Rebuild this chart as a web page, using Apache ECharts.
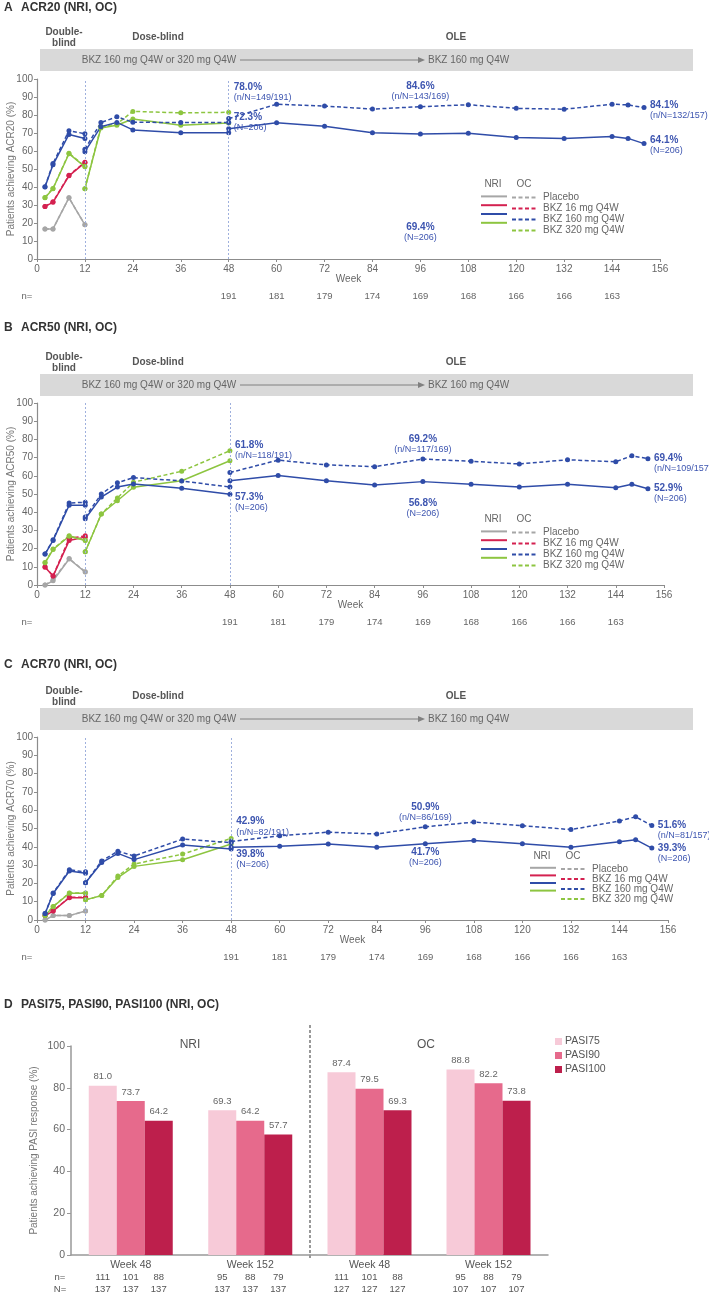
<!DOCTYPE html>
<html>
<head>
<meta charset="utf-8">
<title>ACR / PASI responses</title>
<script src="https://cdn.jsdelivr.net/npm/echarts@6/dist/echarts.min.js"></script>
<style>
  html, body { margin: 0; padding: 0; background: #fff; }
  #chart { width: 709px; height: 1294px; }
</style>
</head>
<body>
<div id="chart"></div>
<script>
// ---- weeks ----
var dbWeeks = [2, 4, 8, 12];
var dsWeeks = [12, 16, 20, 24, 36, 48];
var oleWeeks = [48, 60, 72, 84, 96, 108, 120, 132, 144, 148, 152];
var nWeeks = [48, 60, 72, 84, 96, 108, 120, 132, 144];
var nAtRisk = [191, 181, 179, 174, 169, 168, 166, 166, 163];
var noteWeeks = [48, 96, 152];

// ---- ACR20 ----
var acr20PboNri = [16.7, 16.7, 34.0, 19.0];
var acr20PboOc = [16.7, 16.7, 34.0, 19.0];
var acr20B16Nri = [29.2, 31.5, 46.2, 53.5];
var acr20B16Oc = [29.2, 31.8, 46.5, 53.8];
var acr20B160DbNri = [40.0, 52.3, 69.2, 67.0];
var acr20B160DbOc = [40.2, 53.0, 71.3, 69.6];
var acr20B320DbNri = [34.0, 39.0, 58.5, 51.2];
var acr20B320DbOc = [34.2, 39.2, 58.8, 51.5];
var acr20B160DsNri = [59.6, 73.5, 75.9, 71.7, 70.2, 70.1];
var acr20B160DsOc = [61.0, 75.8, 79.0, 76.0, 75.8, 75.9];
var acr20B320DsNri = [39.0, 72.8, 74.3, 77.8, 74.3, 75.5];
var acr20B320DsOc = [39.0, 73.5, 75.0, 82.0, 81.2, 81.5];
var acr20OleNri = [72.3, 75.7, 73.7, 70.2, 69.4, 69.8, 67.5, 66.9, 68.0, 67.0, 64.1];
var acr20OleOc = [78.0, 86.0, 85.0, 83.3, 84.6, 85.7, 83.7, 83.2, 86.0, 85.6, 84.1];
var acr20NriNotes = [['72.3%', '(N=206)'], ['69.4%', '(N=206)'], ['64.1%', '(N=206)']];
var acr20OcNotes = [['78.0%', '(n/N=149/191)'], ['84.6%', '(n/N=143/169)'], ['84.1%', '(n/N=132/157)']];

// ---- ACR50 ----
var acr50PboNri = [0.0, 2.3, 14.3, 7.1];
var acr50PboOc = [0.0, 3.0, 14.5, 7.3];
var acr50B16Nri = [9.8, 4.9, 24.4, 26.3];
var acr50B16Oc = [10.0, 5.0, 25.6, 27.0];
var acr50B160DbNri = [17.0, 24.5, 43.8, 43.8];
var acr50B160DbOc = [17.1, 24.8, 45.0, 45.5];
var acr50B320DbNri = [12.2, 19.5, 26.8, 24.4];
var acr50B320DbOc = [12.4, 19.8, 27.0, 24.6];
var acr50B160DsNri = [36.4, 48.3, 53.8, 55.5, 53.2, 49.9];
var acr50B160DsOc = [37.3, 50.0, 56.2, 59.0, 57.2, 53.8];
var acr50B320DsNri = [18.3, 39.0, 46.3, 53.7, 57.3, 68.3];
var acr50B320DsOc = [18.3, 39.0, 47.8, 56.5, 62.5, 73.8];
var acr50OleNri = [57.3, 60.2, 57.3, 55.0, 56.8, 55.3, 53.9, 55.3, 53.4, 55.4, 52.9];
var acr50OleOc = [61.8, 68.6, 66.0, 65.0, 69.2, 68.0, 66.5, 68.8, 67.7, 71.0, 69.4];
var acr50NriNotes = [['57.3%', '(N=206)'], ['56.8%', '(N=206)'], ['52.9%', '(N=206)']];
var acr50OcNotes = [['61.8%', '(n/N=118/191)'], ['69.2%', '(n/N=117/169)'], ['69.4%', '(n/N=109/157)']];

// ---- ACR70 ----
var acr70PboNri = [0.0, 2.4, 2.4, 4.9];
var acr70PboOc = [0.0, 2.4, 2.4, 4.9];
var acr70B16Nri = [2.4, 4.9, 12.2, 12.2];
var acr70B16Oc = [2.5, 5.0, 12.4, 12.4];
var acr70B160DbNri = [3.5, 14.5, 26.8, 25.6];
var acr70B160DbOc = [3.6, 14.8, 27.4, 26.3];
var acr70B320DbNri = [2.4, 7.3, 14.6, 14.6];
var acr70B320DbOc = [2.5, 7.4, 14.8, 14.8];
var acr70B160DsNri = [20.4, 31.4, 36.4, 33.0, 41.0, 38.8];
var acr70B160DsOc = [20.4, 32.3, 37.6, 35.0, 44.2, 42.3];
var acr70B320DsNri = [11.0, 13.4, 23.2, 29.3, 32.9, 41.5];
var acr70B320DsOc = [11.0, 13.4, 24.0, 30.6, 36.0, 44.6];
var acr70OleNri = [39.8, 40.3, 41.5, 39.8, 41.7, 43.5, 41.7, 39.7, 42.8, 43.9, 39.3];
var acr70OleOc = [42.9, 46.0, 48.0, 47.0, 50.9, 53.5, 51.5, 49.4, 54.1, 56.4, 51.6];
var acr70NriNotes = [['39.8%', '(N=206)'], ['41.7%', '(N=206)'], ['39.3%', '(N=206)']];
var acr70OcNotes = [['42.9%', '(n/N=82/191)'], ['50.9%', '(n/N=86/169)'], ['51.6%', '(n/N=81/157)']];

// ---- PASI ----
var pasiCats = ['Week 48', 'Week 152'];
var pasiNames = ['PASI75', 'PASI90', 'PASI100'];
var nriPasi75 = [81.0, 69.3];
var nriPasi90 = [73.7, 64.2];
var nriPasi100 = [64.2, 57.7];
var ocPasi75 = [87.4, 88.8];
var ocPasi90 = [79.5, 82.2];
var ocPasi100 = [69.3, 73.8];
var nriN75 = [111, 95], nriN90 = [101, 88], nriN100 = [88, 79];
var nriTot = [137, 137];
var ocN75 = [111, 95], ocN90 = [101, 88], ocN100 = [88, 79];
var ocTot = [127, 107];

// ---- styles ----
var FONT = '"Liberation Sans", Arial, sans-serif';
var GREY = '#A6A6A6', RED = '#D42150', BLUE = '#2F4CA8', GREEN = '#8DC540', NOTE = '#3D55B0';
var AXIS = '#8C8C8C', TXT = '#666666';
var PINKS = ['#F7CAD8', '#E66A8C', '#BD1F4C'];

var panels = [
  { letter: 'A', title: 'ACR20 (NRI, OC)', yName: 'Patients achieving ACR20 (%)',
    top: 79, height: 180, width: 623, bandTop: 49, titleY: 8, legendX: 480, legendTop: 192, legendRow: 11,
    pbo: [acr20PboNri, acr20PboOc], b16: [acr20B16Nri, acr20B16Oc],
    b160db: [acr20B160DbNri, acr20B160DbOc], b320db: [acr20B320DbNri, acr20B320DbOc],
    b160ds: [acr20B160DsNri, acr20B160DsOc], b320ds: [acr20B320DsNri, acr20B320DsOc],
    ole: [acr20OleNri, acr20OleOc], notes: [acr20NriNotes, acr20OcNotes],
    pos: [[[5, -17, 'left', 'top'], [0, 88, 'center', 'top'], [6, -9, 'left', 'top']],
          [[5, -37, 'left', 'top'], [0, -5, 'center', 'bottom'], [6, -8, 'left', 'top']]] },
  { letter: 'B', title: 'ACR50 (NRI, OC)', yName: 'Patients achieving ACR50 (%)',
    top: 403, height: 182, width: 627, bandTop: 374, titleY: 328, legendX: 480, legendTop: 527, legendRow: 11,
    pbo: [acr50PboNri, acr50PboOc], b16: [acr50B16Nri, acr50B16Oc],
    b160db: [acr50B160DbNri, acr50B160DbOc], b320db: [acr50B320DbNri, acr50B320DbOc],
    b160ds: [acr50B160DsNri, acr50B160DsOc], b320ds: [acr50B320DsNri, acr50B320DsOc],
    ole: [acr50OleNri, acr50OleOc], notes: [acr50NriNotes, acr50OcNotes],
    pos: [[[5, 11, 'left', 'top'], [0, 16, 'center', 'top'], [6, -6, 'left', 'top']],
          [[5, -33, 'left', 'top'], [0, -4, 'center', 'bottom'], [6, -6, 'left', 'top']]] },
  { letter: 'C', title: 'ACR70 (NRI, OC)', yName: 'Patients achieving ACR70 (%)',
    top: 737, height: 183, width: 631, bandTop: 708, titleY: 665, legendX: 529, legendTop: 864, legendRow: 9.5,
    pbo: [acr70PboNri, acr70PboOc], b16: [acr70B16Nri, acr70B16Oc],
    b160db: [acr70B160DbNri, acr70B160DbOc], b320db: [acr70B320DbNri, acr70B320DbOc],
    b160ds: [acr70B160DsNri, acr70B160DsOc], b320ds: [acr70B320DsNri, acr70B320DsOc],
    ole: [acr70OleNri, acr70OleOc], notes: [acr70NriNotes, acr70OcNotes],
    pos: [[[5, 2, 'left', 'top'], [0, 3, 'center', 'top'], [6, -5, 'left', 'top']],
          [[5, -25, 'left', 'top'], [0, -4, 'center', 'bottom'], [6, -6, 'left', 'top']]] }
];

var armNames = ['Placebo', 'BKZ 16 mg Q4W', 'BKZ 160 mg Q4W', 'BKZ 320 mg Q4W'];

function noteLabel(p, k, ni) {
  var t = p.notes[k][ni], o = p.pos[k][ni];
  return {
    show: true, position: [o[0] + 2.5, o[1] + 2.5], align: o[2], verticalAlign: o[3],
    formatter: '{p|' + t[0] + '}\n{n|' + t[1] + '}',
    rich: {
      p: { fontWeight: 'bold', fontSize: 10, lineHeight: 10.5, color: NOTE, fontFamily: FONT, align: o[2] },
      n: { fontSize: 9, lineHeight: 10.5, color: NOTE, fontFamily: FONT, align: o[2] }
    }
  };
}

function txt(x, y, s, font, fill, align) {
  return { type: 'text', x: x, y: y, silent: true,
    style: { text: s, font: font, fill: fill || '#555',
      align: align || 'left', verticalAlign: 'middle',
      textAlign: align || 'left', textVerticalAlign: 'middle' } };
}

var grid = [], xAxis = [], yAxis = [], series = [], legend = [], graphic = [];

panels.forEach(function (p, gi) {
  grid.push({ left: 37, top: p.top, width: p.width, height: p.height, outerBoundsMode: 'none', containLabel: false });
  xAxis.push({
    gridIndex: gi, type: 'value', min: 0, max: 156, interval: 12,
    name: 'Week', nameLocation: 'middle', nameGap: 15, nameMoveOverlap: false,
    nameTextStyle: { color: TXT, fontSize: 10, fontFamily: FONT },
    axisLine: { lineStyle: { color: AXIS, width: 1.2 } },
    axisTick: { length: 3, lineStyle: { color: AXIS } },
    axisLabel: { color: TXT, fontSize: 10, fontFamily: FONT, margin: 5 },
    splitLine: { show: false }
  });
  yAxis.push({
    gridIndex: gi, type: 'value', min: 0, max: 100, interval: 10,
    name: p.yName, nameLocation: 'middle', nameGap: 21, nameMoveOverlap: false,
    nameTextStyle: { color: '#777', fontSize: 10, fontFamily: FONT },
    axisLine: { show: true, lineStyle: { color: AXIS, width: 1.2 } },
    axisTick: { show: true, length: 3, lineStyle: { color: AXIS } },
    axisLabel: { color: TXT, fontSize: 10, fontFamily: FONT, margin: 4 },
    splitLine: { show: false }
  });

  var groups = [
    [0, GREY, dbWeeks, p.pbo], [1, RED, dbWeeks, p.b16],
    [3, GREEN, dbWeeks, p.b320db], [2, BLUE, dbWeeks, p.b160db],
    [3, GREEN, dsWeeks, p.b320ds], [2, BLUE, dsWeeks, p.b160ds],
    [2, BLUE, oleWeeks, p.ole, true]
  ];
  groups.forEach(function (g, idx) {
    [0, 1].forEach(function (k) {
      var vals = g[3][k];
      var data = g[2].map(function (w, i) {
        var item = { value: [w, vals[i]] };
        if (g[4]) {
          var ni = noteWeeks.indexOf(w);
          if (ni >= 0) item.label = noteLabel(p, k, ni);
        }
        return item;
      });
      var s = {
        type: 'line', name: armNames[g[0]] + (k ? ' OC' : ' NRI'),
        xAxisIndex: gi, yAxisIndex: gi, data: data,
        symbol: 'circle', symbolSize: 5, showSymbol: true, silent: true,
        color: g[1], itemStyle: { color: g[1] },
        lineStyle: { color: g[1], width: 1.5, type: k ? [4, 2.5] : 'solid' },
        label: { show: false }, z: 3
      };
      if (idx === 0 && k === 0) {
        s.markLine = {
          silent: true, symbol: 'none', label: { show: false },
          lineStyle: { color: '#9FB0DD', type: [2, 2], width: 1 },
          data: [{ xAxis: 12 }, { xAxis: 48 }]
        };
      }
      series.push(s);
    });
  });

  // legends: NRI column (lines only), OC column (dashed + text)
  var legBase = {
    orient: 'vertical', top: p.legendTop, padding: 0,
    itemWidth: 26, itemHeight: p.legendRow, itemGap: 0,
    itemStyle: { opacity: 0 }, selectedMode: false,
    textStyle: { color: TXT, fontSize: 10, lineHeight: p.legendRow, fontFamily: FONT }
  };
  legend.push(Object.assign({}, legBase, {
    left: p.legendX, data: armNames.map(function (a) { return a + ' NRI'; }),
    formatter: function () { return ''; }
  }));
  legend.push(Object.assign({}, legBase, {
    left: p.legendX + 31, data: armNames.map(function (a) { return a + ' OC'; }),
    formatter: function (n) { return n.replace(' OC', ''); }
  }));

  // phase band, headings
  var bt = p.bandTop, cy = bt + 11;
  graphic.push(txt(4, p.titleY, p.letter, 'bold 12px ' + FONT, '#333'));
  graphic.push(txt(21, p.titleY, p.title, 'bold 12px ' + FONT, '#333'));
  graphic.push({ type: 'rect', silent: true, shape: { x: 40, y: bt, width: 653, height: 22 },
    style: { fill: '#D9D9D9' } });
  graphic.push(txt(64, bt - 17, 'Double-', 'bold 10px ' + FONT, '#555', 'center'));
  graphic.push(txt(64, bt - 6, 'blind', 'bold 10px ' + FONT, '#555', 'center'));
  graphic.push(txt(158, bt - 12, 'Dose-blind', 'bold 10px ' + FONT, '#555', 'center'));
  graphic.push(txt(456, bt - 12, 'OLE', 'bold 10px ' + FONT, '#555', 'center'));
  graphic.push(txt(159, cy, 'BKZ 160 mg Q4W or 320 mg Q4W', '10px ' + FONT, '#666', 'center'));
  graphic.push({ type: 'line', silent: true, shape: { x1: 240, y1: cy, x2: 418, y2: cy },
    style: { stroke: '#808080', lineWidth: 1 } });
  graphic.push({ type: 'polygon', silent: true, shape: { points: [[418, cy - 3], [425, cy], [418, cy + 3]] },
    style: { fill: '#808080' } });
  graphic.push(txt(428, cy, 'BKZ 160 mg Q4W', '10px ' + FONT, '#666', 'left'));
  graphic.push(txt(p.legendX + 13, p.legendTop - 8, 'NRI', '10px ' + FONT, TXT, 'center'));
  graphic.push(txt(p.legendX + 44, p.legendTop - 8, 'OC', '10px ' + FONT, TXT, 'center'));
  graphic.push(txt(27, p.top + p.height + 37, 'n=', '9.5px ' + FONT, TXT, 'center'));
});

// n at risk rows (second x-axis per line panel)
panels.forEach(function (p, gi) {
  xAxis.push({
    gridIndex: gi, type: 'value', min: 0, max: 156, interval: 12, position: 'bottom', offset: 24,
    axisLine: { show: false }, axisTick: { show: false }, splitLine: { show: false },
    axisLabel: { color: TXT, fontSize: 9.5, fontFamily: FONT, margin: 8,
      formatter: function (v) { var i = nWeeks.indexOf(v); return i >= 0 ? String(nAtRisk[i]) : ''; } }
  });
});

// ---- Panel D ----
var dTop = 1046, dH = 209;
grid.push({ left: 71, top: dTop, width: 239, height: dH, outerBoundsMode: 'none', containLabel: false });
grid.push({ left: 310, top: dTop, width: 238, height: dH, outerBoundsMode: 'none', containLabel: false });
[3, 4].forEach(function (gi) {
  xAxis.push({
    gridIndex: gi, type: 'category', data: pasiCats,
    axisLine: { lineStyle: { color: '#999', width: 1.5 } }, axisTick: { show: false },
    axisLabel: { color: '#555', fontSize: 10.5, fontFamily: FONT, margin: 5 }
  });
});
[3, 4].forEach(function (gi) {
  xAxis.push({ gridIndex: gi, type: 'category', data: pasiCats, show: false });
});
yAxis.push({
  gridIndex: 3, type: 'value', min: 0, max: 100, interval: 20,
  name: 'Patients achieving PASI response (%)', nameLocation: 'middle', nameGap: 32, nameMoveOverlap: false,
  nameTextStyle: { color: '#777', fontSize: 10, fontFamily: FONT },
  axisLine: { show: true, lineStyle: { color: '#999', width: 1.5 } },
  axisTick: { show: true, length: 4, lineStyle: { color: '#999' } },
  axisLabel: { color: TXT, fontSize: 10.5, fontFamily: FONT, margin: 6 },
  splitLine: { show: false }
});
yAxis.push({ gridIndex: 4, type: 'value', min: 0, max: 100, interval: 20, show: false, splitLine: { show: false } });

var pasiSets = [
  { xi: 6, hx: 8, yi: 3, vals: [nriPasi75, nriPasi90, nriPasi100], ns: [nriN75, nriN90, nriN100], tot: nriTot },
  { xi: 7, hx: 9, yi: 4, vals: [ocPasi75, ocPasi90, ocPasi100], ns: [ocN75, ocN90, ocN100], tot: ocTot }
];
pasiSets.forEach(function (set) {
  set.vals.forEach(function (v, j) {
    series.push({
      type: 'bar', name: pasiNames[j], xAxisIndex: set.xi, yAxisIndex: set.yi,
      data: v, barWidth: 28, barGap: '0%', silent: true,
      itemStyle: { color: PINKS[j] },
      label: { show: true, position: 'top', distance: 4, color: TXT, fontSize: 9.5, fontFamily: FONT,
        formatter: function (pr) { return pr.value.toFixed(1); } }
    });
  });
  set.ns.forEach(function (nArr, j) {
    series.push({
      type: 'bar', name: 'count' + j, xAxisIndex: set.hx, yAxisIndex: set.yi,
      data: nArr.map(function () { return 0; }), barWidth: 28, barGap: '0%', silent: true,
      itemStyle: { color: 'rgba(0,0,0,0)' },
      label: { show: true, position: 'bottom', distance: 16, color: '#555', fontSize: 9.5,
        lineHeight: 12, fontFamily: FONT,
        formatter: function (pr) { return nArr[pr.dataIndex] + '\n' + set.tot[pr.dataIndex]; } }
    });
  });
});

legend.push({
  orient: 'vertical', left: 555, top: 1036, padding: 0, itemWidth: 7, itemHeight: 7, itemGap: 3,
  icon: 'rect', selectedMode: false, data: pasiNames,
  textStyle: { color: '#555', fontSize: 10.5, fontFamily: FONT, padding: [0, 0, 0, -2] }
});

graphic.push(txt(4, 1005, 'D', 'bold 12px ' + FONT, '#333'));
graphic.push(txt(21, 1005, 'PASI75, PASI90, PASI100 (NRI, OC)', 'bold 12px ' + FONT, '#333'));
graphic.push({ type: 'line', silent: true, shape: { x1: 310, y1: 1025, x2: 310, y2: 1259 },
  style: { stroke: '#555', lineWidth: 1.2, lineDash: [3, 2] } });
graphic.push(txt(190, 1045, 'NRI', '12px ' + FONT, '#555', 'center'));
graphic.push(txt(426, 1045, 'OC', '12px ' + FONT, '#555', 'center'));
graphic.push(txt(60, 1277, 'n=', '9.5px ' + FONT, '#555', 'center'));
graphic.push(txt(60, 1289, 'N=', '9.5px ' + FONT, '#555', 'center'));

var chart = echarts.init(document.getElementById('chart'));
chart.setOption({
  animation: false,
  backgroundColor: '#fff',
  textStyle: { fontFamily: FONT },
  grid: grid, xAxis: xAxis, yAxis: yAxis, legend: legend,
  series: series, graphic: graphic
});
</script>
</body>
</html>
